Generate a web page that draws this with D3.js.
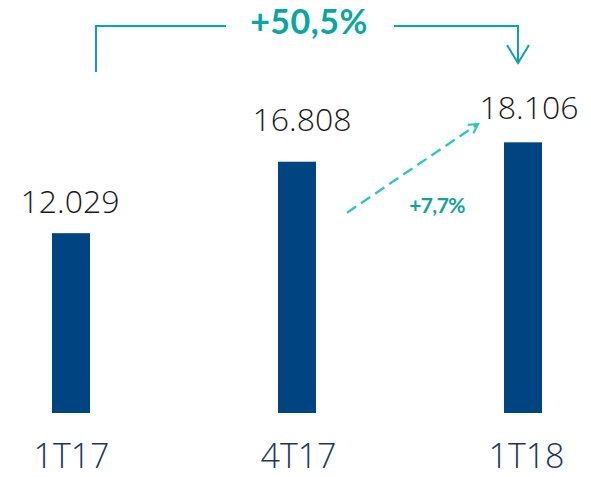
<!DOCTYPE html>
<html>
<head>
<meta charset="utf-8">
<script src="https://cdn.jsdelivr.net/npm/d3@7/dist/d3.min.js"></script>
<style>
  html, body { margin: 0; padding: 0; background: #fff; }
  svg { display: block; }
  .val { font-family: "Open Sans", "Lato", sans-serif; font-weight: 300; fill: #1a1a1a; }
  .cat { font-family: "Open Sans", "Lato", sans-serif; font-weight: 300; fill: #1c355e; }
  .pct { font-family: "Lato", "Open Sans", sans-serif; font-weight: 700; }
</style>
</head>
<body>
<div id="chart"></div>
<script>
// data
var categories = ["1T17", "4T17", "1T18"];
var values = [12029, 16808, 18106];
var valueLabels = ["12.029", "16.808", "18.106"];
var totalChange = "+50,5%";
var lastChange = "+7,7%";

var width = 591, height = 477;
var barWidth = 38;
// label tweaks
var labelGap = [20, 31, 23];
var labelDx = [-1, 5, 6];

var svg = d3.select("#chart").append("svg")
    .attr("width", width)
    .attr("height", height);

var defs = svg.append("defs");
defs.append("marker")
    .attr("id", "chev")
    .attr("viewBox", "0 0 12 12")
    .attr("refX", 10).attr("refY", 6)
    .attr("markerWidth", 12).attr("markerHeight", 12)
    .attr("markerUnits", "userSpaceOnUse")
    .attr("orient", "auto")
    .append("path")
    .attr("d", "M1,1 L10,6 L1,11")
    .attr("fill", "none")
    .attr("stroke", "#2ec5c8")
    .attr("stroke-width", 2.2);

var x = d3.scalePoint()
    .domain(categories)
    .range([71, 523]);

var y = d3.scaleLinear()
    .domain([0, 20000])
    .range([413, 114]);

// bars
svg.selectAll("rect.bar")
    .data(values)
    .enter()
    .append("rect")
    .attr("class", "bar")
    .attr("x", function(d, i) { return x(categories[i]) - barWidth / 2; })
    .attr("y", function(d) { return y(d); })
    .attr("width", barWidth)
    .attr("height", function(d) { return y(0) - y(d); })
    .attr("fill", "#004481");

// value labels
svg.selectAll("text.val")
    .data(values)
    .enter()
    .append("text")
    .attr("class", "val")
    .attr("x", function(d, i) { return x(categories[i]) + labelDx[i]; })
    .attr("y", function(d, i) { return y(d) - labelGap[i]; })
    .attr("text-anchor", "middle")
    .attr("font-size", 32)
    .text(function(d, i) { return valueLabels[i]; });

// category axis labels
var xAxis = d3.axisBottom(x).tickSize(0).tickPadding(0);
var axisG = svg.append("g")
    .call(xAxis);
axisG.select(".domain").remove();
axisG.selectAll("text")
    .attr("class", "cat")
    .attr("y", 468)
    .attr("dy", 0)
    .attr("font-size", 34)
    .attr("dx", function(d, i) { return [0, 1, 3][i]; });

// bracket for the year on year change
var teal = "#0aa6a4";
svg.append("path")
    .attr("d", "M96,72 L96,26 L226,26")
    .attr("fill", "none")
    .attr("stroke", teal)
    .attr("stroke-width", 2);
svg.append("path")
    .attr("d", "M394,26 L518,26 L518,62")
    .attr("fill", "none")
    .attr("stroke", teal)
    .attr("stroke-width", 2);
svg.append("path")
    .attr("d", "M507,45 L518,63 L529,45")
    .attr("fill", "none")
    .attr("stroke", teal)
    .attr("stroke-width", 2);
svg.append("text")
    .attr("class", "pct")
    .attr("x", 309)
    .attr("y", 34)
    .attr("text-anchor", "middle")
    .attr("font-size", 34)
    .attr("letter-spacing", 0.5)
    .attr("fill", teal)
    .text(totalChange);

// dashed arrow for the quarter change
svg.append("line")
    .attr("x1", 347).attr("y1", 212.7)
    .attr("x2", 478).attr("y2", 124)
    .attr("stroke", "#2ec5c8")
    .attr("stroke-width", 2.4)
    .attr("stroke-dasharray", "11,6")
    .attr("marker-end", "url(#chev)");
svg.append("text")
    .attr("class", "pct")
    .attr("x", 437)
    .attr("y", 213)
    .attr("text-anchor", "middle")
    .attr("font-size", 21)
    .attr("letter-spacing", -0.6)
    .attr("fill", "#12a39b")
    .text(lastChange);
</script>
</body>
</html>
